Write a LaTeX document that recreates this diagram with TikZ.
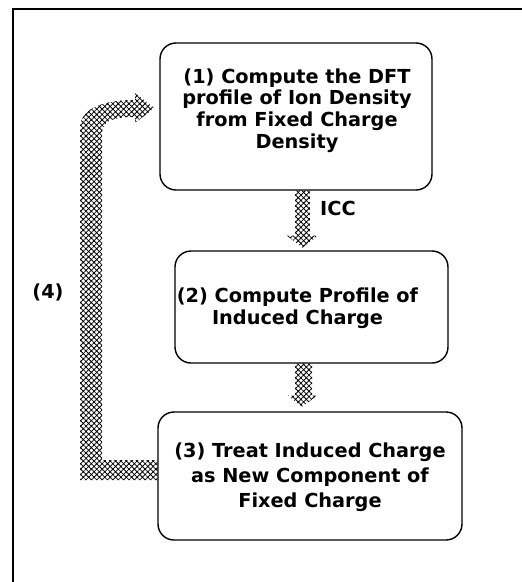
\documentclass[tikz,border=0pt]{standalone}
\usepackage{fontspec}
\setmainfont{DejaVu Sans}
\usetikzlibrary{patterns.meta,calc}
\begin{document}
\begin{tikzpicture}[x=1pt,y=-1pt,
  frame/.style={line width=1.4pt},
  stepbox/.style={draw,line width=1.4pt,rounded corners=16pt,inner sep=0pt},
  txt/.style={align=center,font=\fontsize{19.3}{21.7}\selectfont\bfseries},
  fat/.style={pattern={Hatch[angle=45,distance=3.8pt,line width=0.8pt]}}]
\useasboundingbox (0,0) rectangle (522,582);
\draw[frame] (13,582) -- (13,9) -- (522,9);
\node[stepbox,minimum width=272pt,minimum height=147pt] (b1) at (296,116.5) {};
\node[stepbox,minimum width=273pt,minimum height=112pt] (b2) at (311.5,307) {};
\node[stepbox,minimum width=304pt,minimum height=128pt] (b3) at (310,476) {};
\node[txt] (t1) at (297,110.5) {(1) Compute the DFT\\profile of Ion Density\\from Fixed Charge\\Density};
\node[txt] (t2) at (297.5,308.5) {(2) Compute Profile of\\Induced Charge};
\node[txt,font=\fontsize{19.3}{25}\selectfont\bfseries] (t3) at (310,477) {(3) Treat Induced Charge\\as New Component of\\Fixed Charge};
\node[txt] (icc) at (338,208) {ICC};
\node[txt] (l4) at (48,292) {(4)};
% ICC arrow
\path[fat,shift={(b1.south)}] (-1,0) -- (14,0) -- (14,45) -- (22,45) -- (6.5,57) -- (-9,45) -- (-1,45) -- cycle;
% arrow 2 -> 3
\path[fat,shift={(b2.south)}] (-16.5,0) -- (0.5,0) -- (0.5,32) -- (5.5,32) -- (-9.5,43) -- (-23.5,32) -- (-16.5,32) -- cycle;
% loop arrow
\path[fat] ($(b3.west)+(0,-16)$) -- (102,460) -- (102,135) .. controls (102,122) and (110,117) .. (135,117) -- (135,123) -- ($(b1.west)+(-5,-8.5)$) -- (135,93) -- (135,100) .. controls (100,100) and (80,110) .. (80,128) -- (80,480) -- ($(b3.west)+(0,4)$) -- cycle;
\end{tikzpicture}
\end{document}
